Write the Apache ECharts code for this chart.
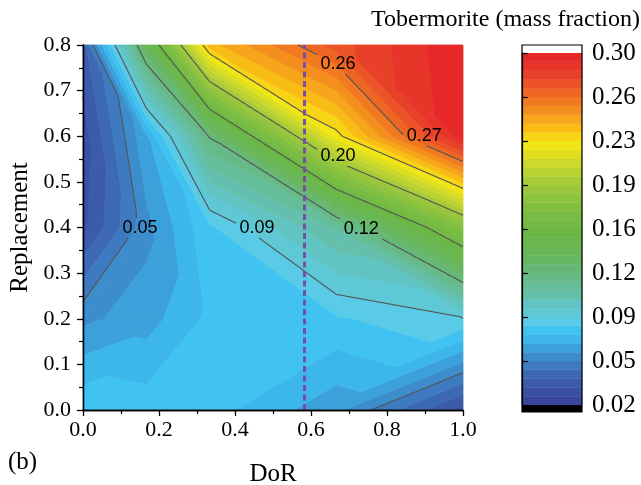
<!DOCTYPE html>
<html><head><meta charset="utf-8">
<script src="https://cdn.jsdelivr.net/npm/echarts@6/dist/echarts.min.js"></script>
<style>html,body{margin:0;padding:0;background:#fff}#c{width:641px;height:485px}</style>
</head><body><div id="c"></div>
<script>
// ---------------- data ----------------
const dor = [0, 1/6, 1/3, 2/3, 1];            // DoR grid nodes
const replacement = [0, 0.2, 0.4, 0.6, 0.8];   // Replacement grid nodes
// Tobermorite mass fraction at the nodes, one array per Replacement row (DoR = 0, 1/6, 1/3, 2/3, 1)
const tob_R00 = [0.082, 0.080, 0.079, 0.064, 0.031];
const tob_R02 = [0.0602, 0.0657, 0.0777, 0.082, 0.0895];
const tob_R04 = [0.032, 0.0596, 0.0816, 0.112, 0.179];
const tob_R06 = [0.030, 0.068, 0.126, 0.2266, 0.298];
const tob_R08 = [0.039, 0.140, 0.241, 0.2754, 0.300];
// diagonal used to split each grid cell into triangles: 'm' = lower-left to upper-right, 'a' = upper-left to lower-right
const triangulation = [
  ['m', 'm', 'm', 'm'],
  ['m', 'a', 'a', 'a'],
  ['a', 'a', 'a', 'a'],
  ['a', 'a', 'a', 'a']
];
const contourLevels = [0.055, 0.09, 0.125, 0.16, 0.195, 0.23, 0.265];
const labelText = ['0.05', '0.09', '0.12', '0.20', '0.26', '0.27'];
const labelDoR  = [0.150, 0.458, 0.732, 0.671, 0.671, 0.898];
const labelRep  = [0.399, 0.399, 0.397, 0.557, 0.758, 0.601];
const dashedDoR = 0.583;
const xTickLabels = ['0.0', '0.2', '0.4', '0.6', '0.8', '1.0'];
const yTickLabels = ['0.0', '0.1', '0.2', '0.3', '0.4', '0.5', '0.6', '0.7', '0.8'];
const cbTickLabels = ['0.02', '0.05', '0.09', '0.12', '0.16', '0.19', '0.23', '0.26', '0.30'];
const cbMin = 0.02, cbMax = 0.30, cbBands = 40;

// ---------------- styling ----------------
const colorStops = [
  [0.020, '#37429a'], [0.034, '#3b54a5'], [0.048, '#3e70b8'], [0.062, '#3c96d2'],
  [0.073, '#3db8ec'], [0.080, '#40c4f1'], [0.087, '#5bcbe6'], [0.097, '#60c6cc'],
  [0.110, '#65bfa6'], [0.125, '#67b97e'], [0.140, '#68b65a'], [0.155, '#6ab746'],
  [0.174, '#7cbd42'], [0.195, '#9fc83c'], [0.212, '#cbd82c'], [0.228, '#f5e813'],
  [0.240, '#f9bd16'], [0.252, '#f5961d'], [0.266, '#ef6c23'], [0.283, '#e94029'],
  [0.300, '#e52228']
];
function hex(c){return [parseInt(c.slice(1,3),16),parseInt(c.slice(3,5),16),parseInt(c.slice(5,7),16)];}
function colorAt(v){
  if (v <= colorStops[0][0]) return colorStops[0][1];
  for (let i=1;i<colorStops.length;i++){
    if (v <= colorStops[i][0]){
      const a=colorStops[i-1], b=colorStops[i], t=(v-a[0])/(b[0]-a[0]);
      const ca=hex(a[1]), cb=hex(b[1]);
      return 'rgb('+ca.map((x,k)=>Math.round(x+(cb[k]-x)*t)).join(',')+')';
    }
  }
  return colorStops[colorStops.length-1][1];
}
const bandStep = (cbMax-cbMin)/cbBands;
const bandColors = [];
for (let k=0;k<cbBands;k++) bandColors.push(colorAt(cbMin+(k+0.5)*bandStep));
const SERIF = '"Liberation Serif","Times New Roman",serif';
const SANS = '"Liberation Sans",Arial,sans-serif';

// ---------------- helpers ----------------
const rows = [tob_R00, tob_R02, tob_R04, tob_R06, tob_R08];
const cells = [];
for (let j=0;j<replacement.length-1;j++) for (let i=0;i<dor.length-1;i++){
  cells.push([dor[i], replacement[j], dor[i+1], replacement[j+1],
              rows[j][i], rows[j][i+1], rows[j+1][i], rows[j+1][i+1],
              triangulation[j][i]==='a' ? 1 : 0]);
}
function clipPoly(pts, level, keepAbove){
  const out=[]; const n=pts.length;
  const inside = p => keepAbove ? p.v >= level : p.v <= level;
  for (let i=0;i<n;i++){
    const a=pts[i], b=pts[(i+1)%n];
    const ia=inside(a), ib=inside(b);
    if (ia) out.push(a);
    if (ia !== ib){
      const t=(level-a.v)/(b.v-a.v);
      out.push({x:a.x+(b.x-a.x)*t, y:a.y+(b.y-a.y)*t, v:level});
    }
  }
  return out;
}
function triangles(api){
  const x0=api.value(0), y0=api.value(1), x1=api.value(2), y1=api.value(3);
  const BL={x:x0,y:y0,v:api.value(4)}, BR={x:x1,y:y0,v:api.value(5)},
        TL={x:x0,y:y1,v:api.value(6)}, TR={x:x1,y:y1,v:api.value(7)};
  if (api.value(8) === 1) return [[TL,BL,BR],[TL,TR,BR]];
  return [[BL,BR,TR],[BL,TL,TR]];
}
function renderFill(params, api){
  const children=[];
  for (const tri of triangles(api)){
    for (let k=0;k<cbBands;k++){
      const lo=cbMin+k*bandStep, hi=cbMin+(k+1)*bandStep;
      let poly=clipPoly(tri, k===0?-1:lo, true);
      if (poly.length<3) continue;
      poly=clipPoly(poly, k===cbBands-1?1:hi, false);
      if (poly.length<3) continue;
      const pts=poly.map(p=>api.coord([p.x,p.y]));
      children.push({type:'polygon', shape:{points:pts},
        style:{fill:bandColors[k], stroke:bandColors[k], lineWidth:0.8}});
    }
  }
  return {type:'group', children};
}
function labelRects(api){
  return labelText.map((t,i)=>{const c=api.coord([labelDoR[i],labelRep[i]]); return [c[0]-21,c[1]-10,c[0]+21,c[1]+10];});
}
function renderLines(params, api){
  const rects=labelRects(api);
  const inRect=p=>rects.some(r=>p[0]>r[0]&&p[0]<r[2]&&p[1]>r[1]&&p[1]<r[3]);
  const children=[];
  for (const tri of triangles(api)){
    for (const L of contourLevels){
      const pts=[];
      for (let e=0;e<3;e++){
        const a=tri[e], b=tri[(e+1)%3];
        if ((a.v-L)*(b.v-L)<0){
          const t=(L-a.v)/(b.v-a.v);
          pts.push([a.x+(b.x-a.x)*t, a.y+(b.y-a.y)*t]);
        }
      }
      if (pts.length<2) continue;
      const p=api.coord(pts[0]), q=api.coord(pts[1]);
      const len=Math.hypot(q[0]-p[0],q[1]-p[1]); const n=Math.max(1,Math.ceil(len/1.0));
      let cur=null;
      for (let s=0;s<n;s++){
        const a=[p[0]+(q[0]-p[0])*s/n, p[1]+(q[1]-p[1])*s/n];
        const b=[p[0]+(q[0]-p[0])*(s+1)/n, p[1]+(q[1]-p[1])*(s+1)/n];
        const m=[(a[0]+b[0])/2,(a[1]+b[1])/2];
        if (inRect(m)){ if(cur){children.push(cur);cur=null;} continue; }
        if (!cur) cur={type:'polyline', shape:{points:[a,b]}, style:{stroke:'#535353', lineWidth:1.1, fill:null}};
        else cur.shape.points.push(b);
      }
      if (cur) children.push(cur);
    }
  }
  return {type:'group', children};
}
function renderLabels(params, api){
  const i=params.dataIndex; const c=api.coord([labelDoR[i],labelRep[i]]);
  return {type:'text', x:c[0], y:c[1], style:{text:labelText[i], fill:'#000', font:'18px '+SANS, align:'center', verticalAlign:'middle'}};
}
const cbData=[]; for (let k=0;k<cbBands;k++) cbData.push([0, cbMin+k*bandStep, 1, cbMin+(k+1)*bandStep, k]);
function renderCbBand(params, api){
  const a=api.coord([0,api.value(1)]), b=api.coord([1,api.value(3)]);
  const k=api.value(4);
  return {type:'rect', shape:{x:a[0], y:b[1], width:b[0]-a[0], height:a[1]-b[1]},
    style:{fill:bandColors[k], stroke:bandColors[k], lineWidth:0.5}};
}
function renderCbFrame(params, api){
  const a=api.coord([0,cbMin]), b=api.coord([1,cbMax]);
  const w=b[0]-a[0];
  return {type:'group', children:[
    {type:'rect', shape:{x:a[0], y:b[1]-8, width:w, height:8}, style:{fill:'#fff'}},
    {type:'rect', shape:{x:a[0], y:a[1], width:w, height:7}, style:{fill:'#000'}},
    {type:'rect', shape:{x:a[0], y:b[1]-8, width:w, height:a[1]-b[1]+15}, style:{fill:null, stroke:'#000', lineWidth:1.2}}
  ]};
}

const axisCommon = {
  axisLine:{show:true, lineStyle:{color:'#000', width:1.3}},
  axisTick:{show:true, inside:false, length:6, lineStyle:{color:'#000', width:1.3}},
  minorTick:{show:true, splitNumber:2, length:4, lineStyle:{color:'#000', width:1.2}},
  splitLine:{show:false}, z:10
};
const option = {
  animation:false,
  backgroundColor:'#fff',
  grid:[
    {left:83, top:45, width:380, height:365, show:false, containLabel:false, outerBoundsMode:'none'},
    {left:522, top:53, width:60, height:352, show:false, containLabel:false, outerBoundsMode:'none'}
  ],
  xAxis:[
    Object.assign({}, axisCommon, {gridIndex:0, type:'value', min:0, max:1, interval:0.2,
      axisLabel:{formatter:(v,i)=>xTickLabels[i], fontFamily:SERIF, fontSize:22, color:'#000', margin:9},
      name:'DoR', nameLocation:'middle', nameGap:52, nameTextStyle:{fontFamily:SERIF, fontSize:25, color:'#000'}}),
    {gridIndex:0, type:'value', min:0, max:1, position:'top', axisLine:{show:true, lineStyle:{color:'#000', width:1.3}},
      axisTick:{show:false}, axisLabel:{show:false}, splitLine:{show:false}, z:10},
    {gridIndex:1, type:'value', min:0, max:1, show:false}
  ],
  yAxis:[
    Object.assign({}, axisCommon, {gridIndex:0, type:'value', min:0, max:0.8, interval:0.1,
      axisLabel:{formatter:(v,i)=>yTickLabels[i], fontFamily:SERIF, fontSize:22, color:'#000', margin:12},
      name:'Replacement', nameLocation:'middle', nameGap:50, nameTextStyle:{fontFamily:SERIF, fontSize:25, color:'#000'}}),
    {gridIndex:0, type:'value', min:0, max:0.8, position:'right', axisLine:{show:true, lineStyle:{color:'#000', width:1.3}},
      axisTick:{show:false}, axisLabel:{show:false}, splitLine:{show:false}, z:10},
    {gridIndex:1, type:'value', min:cbMin, max:cbMax, interval:(cbMax-cbMin)/8, position:'right',
      axisLine:{show:true, lineStyle:{color:'#000', width:1.2}},
      axisTick:{show:true, inside:false, length:6, lineStyle:{color:'#000', width:1.2}},
      axisLabel:{formatter:(v,i)=>cbTickLabels[i], fontFamily:SERIF, fontSize:25, color:'#000', margin:10},
      splitLine:{show:false}, z:10}
  ],
  series:[
    {type:'custom', xAxisIndex:0, yAxisIndex:0, data:cells, renderItem:renderFill, encode:{x:[0,2], y:[1,3]}, z:1, silent:true},
    {type:'custom', xAxisIndex:0, yAxisIndex:0, data:cells, renderItem:renderLines, encode:{x:[0,2], y:[1,3]}, z:2, silent:true},
    {type:'custom', xAxisIndex:0, yAxisIndex:0, data:labelDoR.map((d,i)=>[d,labelRep[i]]), renderItem:renderLabels, z:3, silent:true},
    {type:'line', xAxisIndex:0, yAxisIndex:0, data:[[dashedDoR,0],[dashedDoR,0.8]], symbol:'none', z:4, silent:true,
      lineStyle:{color:'#7650a6', width:3, type:[6,3.5]}},
    {type:'custom', xAxisIndex:2, yAxisIndex:2, data:cbData, renderItem:renderCbBand, z:1, silent:true, clip:false},
    {type:'custom', xAxisIndex:2, yAxisIndex:2, data:[[0,cbMin,1,cbMax]], renderItem:renderCbFrame, z:2, silent:true, clip:false}
  ],
  graphic:[
    {type:'text', right:1, top:8, style:{text:'Tobermorite (mass fraction)', font:'24px '+SERIF, fill:'#000'}},
    {type:'text', left:8, top:450, style:{text:'(b)', font:'25px '+SERIF, fill:'#000'}}
  ]
};
const chart = echarts.init(document.getElementById('c'), null, {renderer:'canvas', width:641, height:485});
chart.setOption(option);
</script>
</body></html>
